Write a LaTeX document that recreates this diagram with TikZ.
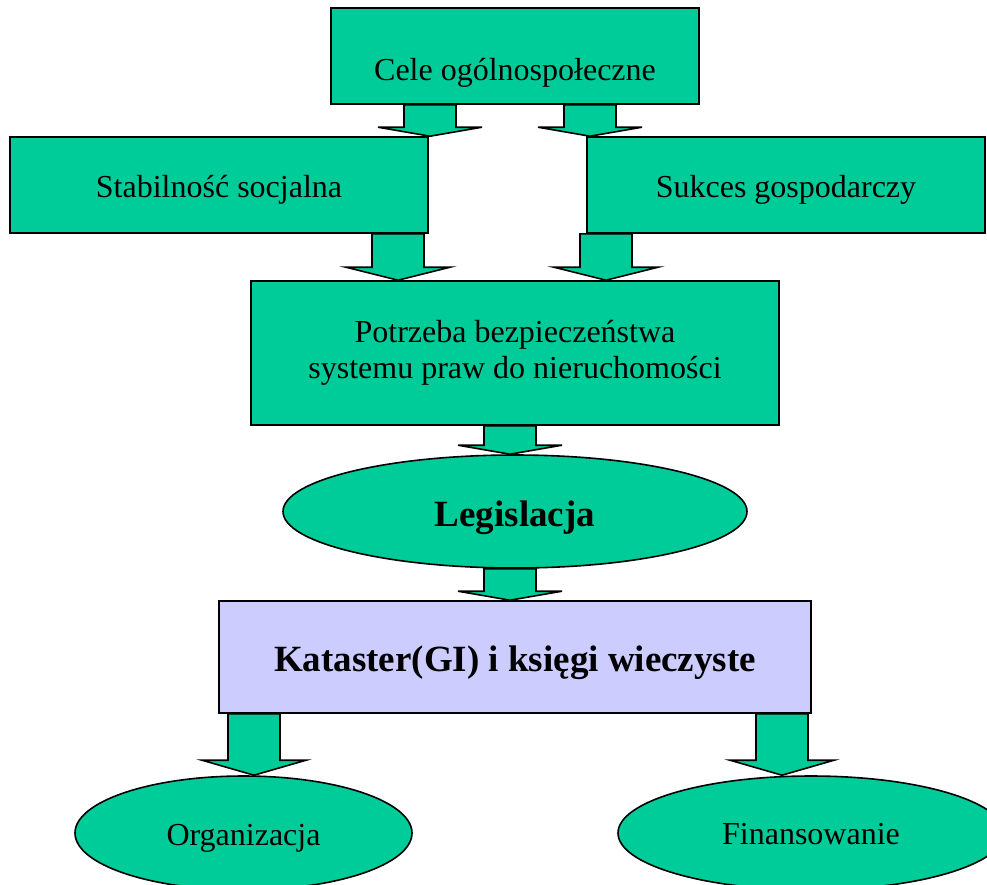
\documentclass[tikz,border=0pt]{standalone}
\usepackage{fontspec}
\setmainfont{Liberation Serif}
\usetikzlibrary{shapes.geometric,calc}
\definecolor{tealgreen}{HTML}{00CC99}
\definecolor{lavbox}{HTML}{CCCCFF}
\newcommand\blockarrow[4]{%
  \coordinate (s) at (#1,0 |- #2.south);
  \coordinate (t) at (#1,0 |- #3.north);
  \draw[arr] ($(s)+(-26,0)$) -- ($(t)+(-26,-#4)$) -- ($(t)+(-52,-#4)$) -- (t)
    -- ($(t)+(52,-#4)$) -- ($(t)+(26,-#4)$) -- ($(s)+(26,0)$) -- cycle;}
\tikzset{
  box/.style={draw=black, line width=1.6pt, fill=tealgreen, rectangle, inner sep=0pt,
    font=\fontsize{32}{36}\selectfont, align=center},
  oval/.style={draw=black, line width=1.6pt, fill=tealgreen, ellipse, inner sep=0pt,
    font=\fontsize{32}{36}\selectfont, align=center},
  arr/.style={draw=black, line width=1.6pt, fill=tealgreen, line join=miter},
  base/.style={text height=#1, text depth=0pt},
}
\begin{document}
\begin{tikzpicture}[x=1pt, y=-1pt]
\useasboundingbox (0,0) rectangle (987,884);
\clip (0,0) rectangle (987,884);
\node[box, minimum width=368pt, minimum height=96pt, base=48pt] (cele) at (515,56) {Cele ogólnospołeczne};
\node[box, minimum width=418pt, minimum height=96pt, base=25pt] (stab) at (219,185) {Stabilność socjalna};
\node[box, minimum width=398pt, minimum height=96pt, base=25pt] (sukc) at (786,185) {Sukces gospodarczy};
\node[box, minimum width=528pt, minimum height=144pt] (potr) at (515,353) {Potrzeba bezpieczeństwa\\systemu praw do nieruchomości};
\node[oval, minimum width=464pt, minimum height=113pt, base=29pt, font=\fontsize{37}{42}\selectfont\bfseries] (legis) at (515,511.5) {Legislacja};
\node[box, fill=lavbox, minimum width=592pt, minimum height=112pt, base=28pt, font=\fontsize{37}{42}\selectfont\bfseries] (kat) at (515,657) {Kataster(GI) i księgi wieczyste};
\node[oval, minimum width=337pt, minimum height=114pt, base=24pt] (org) at (243.5,833) {Organizacja};
\node[oval, minimum width=386pt, minimum height=114pt, base=22pt] (fin) at (811,833) {Finansowanie};
\blockarrow{430}{cele}{stab}{9}
\blockarrow{590}{cele}{sukc}{9}
\blockarrow{398}{stab}{potr}{13}
\blockarrow{606}{sukc}{potr}{13}
\blockarrow{510}{potr}{legis}{9}
\blockarrow{510}{legis}{kat}{9}
\blockarrow{254}{kat}{org}{15}
\blockarrow{782}{kat}{fin}{15}
\end{tikzpicture}
\end{document}
